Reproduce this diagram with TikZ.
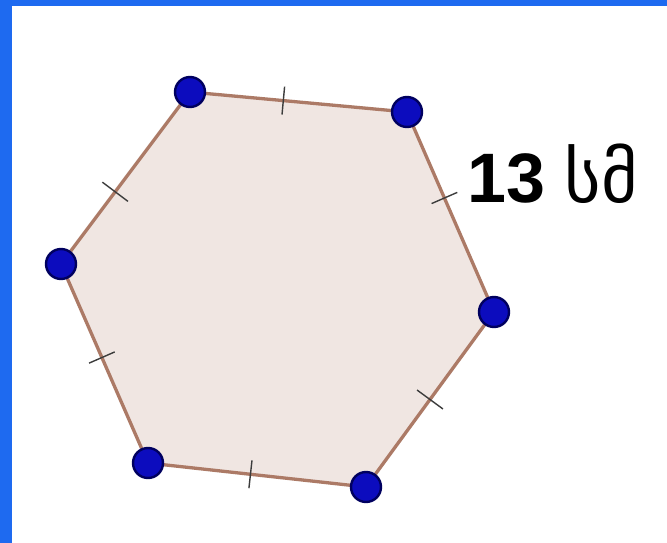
\documentclass[tikz,border=0pt]{standalone}
\usepackage{fontspec}
\setmainfont{Liberation Sans}
\newfontfamily\geofont{DejaVu Sans}
\usetikzlibrary{calc}
\definecolor{framebl}{RGB}{30,106,240}
\definecolor{edgec}{RGB}{172,122,102}
\definecolor{fillc}{RGB}{240,230,226}
\definecolor{dotin}{RGB}{12,12,190}
\definecolor{dotout}{RGB}{0,0,95}
\definecolor{tickc}{RGB}{60,60,60}
\tikzset{
  vdot/.style={circle,fill=dotin,draw=dotout,line width=2.4pt,minimum size=30pt,inner sep=0pt},
  hexedge/.style={draw=edgec,line width=3.3pt,fill=fillc,line join=round},
  tickline/.style={draw=tickc,line width=1.4pt},
  lbl/.style={anchor=base west,inner sep=0pt,font=\fontsize{70}{80}\selectfont}
}
\begin{document}
\begin{tikzpicture}[x=1pt,y=-1pt]
\useasboundingbox (0,0) rectangle (667,543);
\fill[white] (0,0) rectangle (667,543);
\fill[framebl] (0,0) rectangle (667,6);
\fill[framebl] (0,0) rectangle (12,543);
\coordinate (v1) at (190,92);
\coordinate (v2) at (407,112);
\coordinate (v3) at (494,312);
\coordinate (v4) at (366,487);
\coordinate (v5) at (148,463);
\coordinate (v6) at (61,264);
\path[hexedge] (v1) -- (v2) -- (v3) -- (v4) -- (v5) -- (v6) -- cycle;
\coordinate (t1) at ($(v1)!0.43!(v2)$);
\coordinate (t2) at ($(v2)!0.43!(v3)$);
\coordinate (t3) at ($(v3)!0.5!(v4)$);
\coordinate (t4) at ($(v4)!0.53!(v5)$);
\coordinate (t5) at ($(v5)!0.53!(v6)$);
\coordinate (t6) at ($(v6)!0.42!(v1)$);
\draw[tickline] ($(t1)!14pt!90:(v2)$) -- ($(t1)!14pt!-90:(v2)$);
\draw[tickline] ($(t2)!14pt!90:(v3)$) -- ($(t2)!14pt!-90:(v3)$);
\draw[tickline] ($(t3)!16pt!90:(v4)$) -- ($(t3)!16pt!-90:(v4)$);
\draw[tickline] ($(t4)!14pt!90:(v5)$) -- ($(t4)!14pt!-90:(v5)$);
\draw[tickline] ($(t5)!14pt!90:(v6)$) -- ($(t5)!14pt!-90:(v6)$);
\draw[tickline] ($(t6)!16pt!90:(v1)$) -- ($(t6)!16pt!-90:(v1)$);
\foreach \i in {1,...,6} \node[vdot] (d\i) at (v\i) {};
\node[lbl] (side) at (467,202) {\textbf{13} {\geofont სმ}};
\end{tikzpicture}
\end{document}
